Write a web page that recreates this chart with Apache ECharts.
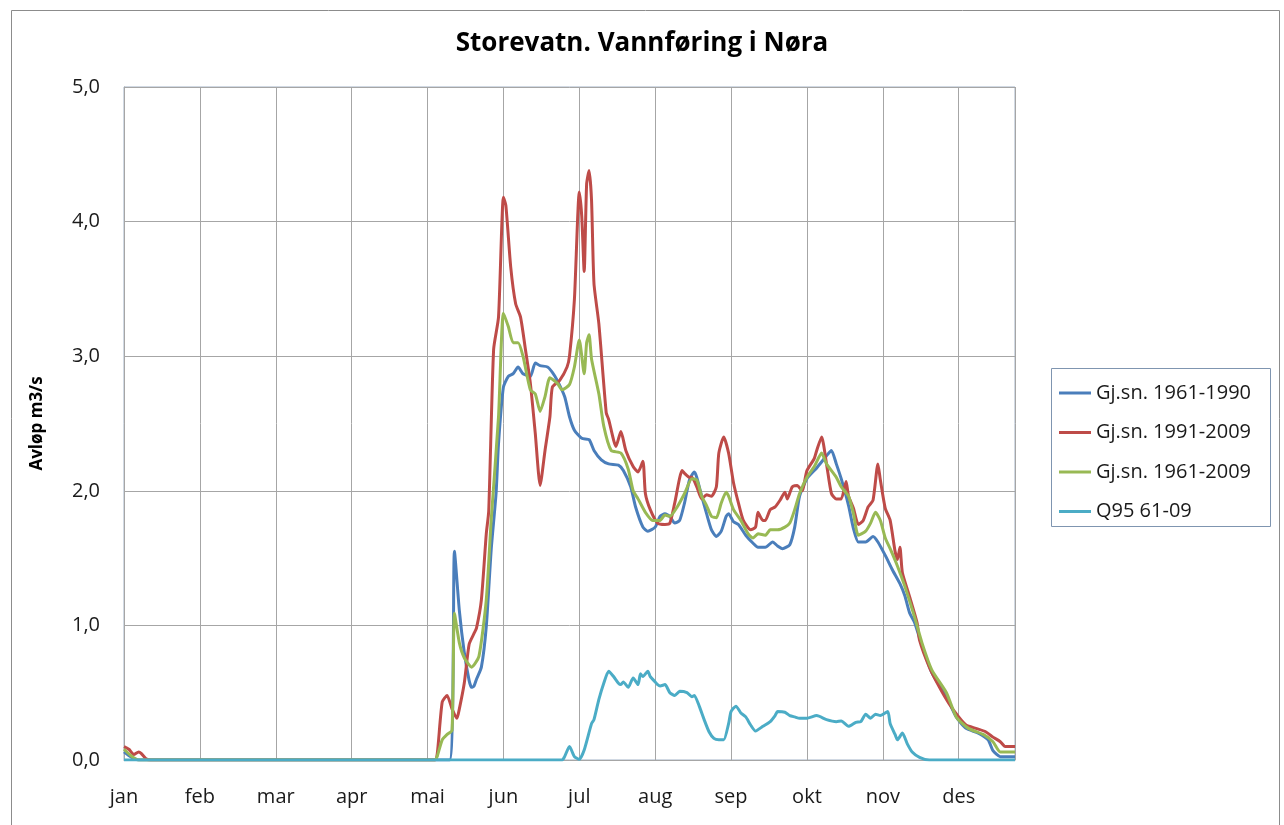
<!DOCTYPE html>
<html>
<head>
<meta charset="utf-8">
<title>Storevatn. Vannføring i Nøra</title>
<script src="https://cdn.jsdelivr.net/npm/echarts@6/dist/echarts.min.js"></script>
<style>
  html, body { margin: 0; padding: 0; background: #fff; }
  #chart { width: 1284px; height: 825px; }
</style>
</head>
<body>
<div id="chart"></div>
<script>
// month labels, one every 31 days on the day-of-year axis
var months = ['jan', 'feb', 'mar', 'apr', 'mai', 'jun', 'jul', 'aug', 'sep', 'okt', 'nov', 'des'];
var yTicks = [0, 1, 2, 3, 4, 5];

// Gj.sn. 1961-1990
var blueDays = [0, 3, 6, 133, 135, 137, 139, 141, 142, 143, 144, 146, 148, 150, 152, 153, 155, 157, 159, 161, 163, 166, 168, 170, 173, 175, 177, 180, 182, 184, 187, 190, 192, 195, 198, 202, 204, 207, 209, 212, 214, 217, 219, 221, 223, 225, 227, 229, 231, 233, 234, 236, 238, 240, 242, 244, 246, 247, 249, 251, 254, 257, 259, 262, 265, 267, 269, 272, 274, 276, 279, 283, 287, 289, 291, 293, 296, 298, 300, 303, 306, 308, 311, 314, 317, 319, 321, 323, 326, 330, 336, 340, 344, 349, 353, 355, 358, 364];
var blueVals = [0.06, 0.02, 0, 0, 1.55, 1.11, 0.80, 0.59, 0.54, 0.55, 0.60, 0.69, 0.99, 1.56, 1.98, 2.35, 2.77, 2.85, 2.87, 2.92, 2.87, 2.85, 2.95, 2.93, 2.92, 2.88, 2.82, 2.70, 2.55, 2.45, 2.39, 2.38, 2.30, 2.23, 2.20, 2.19, 2.15, 2.03, 1.88, 1.73, 1.70, 1.73, 1.81, 1.83, 1.81, 1.76, 1.78, 1.91, 2.08, 2.14, 2.10, 1.96, 1.83, 1.71, 1.66, 1.70, 1.81, 1.83, 1.77, 1.75, 1.67, 1.61, 1.58, 1.58, 1.62, 1.59, 1.57, 1.60, 1.73, 1.96, 2.09, 2.17, 2.26, 2.30, 2.20, 2.09, 1.89, 1.72, 1.62, 1.62, 1.66, 1.62, 1.52, 1.41, 1.31, 1.22, 1.09, 1.02, 0.85, 0.65, 0.47, 0.32, 0.235, 0.20, 0.15, 0.07, 0.025, 0.025];

// Gj.sn. 1991-2009
var redDays = [0, 2, 4, 6, 7, 9, 11, 127, 128, 130, 132, 134, 136, 137, 139, 141, 143, 144, 146, 148, 149, 151, 153, 155, 156, 158, 160, 162, 164, 166, 168, 170, 172, 174, 175, 178, 181, 182, 184, 186, 187, 188, 189, 190, 191, 192, 194, 197, 198, 201, 203, 205, 208, 210, 212, 213, 215, 218, 221, 223, 225, 228, 229, 231, 232, 234, 236, 238, 240, 242, 243, 245, 247, 249, 251, 253, 256, 258, 259, 261, 262, 264, 266, 268, 270, 271, 273, 275, 277, 279, 282, 283, 285, 287, 289, 291, 293, 295, 296, 298, 300, 302, 304, 306, 308, 309, 311, 313, 315, 316, 317, 318, 321, 324, 325, 329, 333, 337, 341, 344, 348, 352, 355, 358, 360, 364];
var redVals = [0.10, 0.08, 0.04, 0.06, 0.05, 0.01, 0, 0, 0.05, 0.43, 0.48, 0.38, 0.31, 0.38, 0.57, 0.86, 0.94, 0.98, 1.19, 1.68, 1.85, 3.05, 3.29, 4.18, 4.12, 3.66, 3.39, 3.29, 3.05, 2.80, 2.43, 2.04, 2.30, 2.55, 2.77, 2.82, 2.92, 3.00, 3.42, 4.22, 4.04, 3.63, 4.28, 4.38, 4.16, 3.54, 3.24, 2.58, 2.53, 2.33, 2.44, 2.30, 2.18, 2.14, 2.22, 1.98, 1.86, 1.76, 1.75, 1.76, 1.91, 2.15, 2.13, 2.10, 2.10, 2.03, 1.94, 1.97, 1.96, 2.03, 2.28, 2.40, 2.28, 2.06, 1.91, 1.78, 1.71, 1.73, 1.84, 1.78, 1.78, 1.86, 1.88, 1.93, 1.99, 1.94, 2.03, 2.04, 2.00, 2.15, 2.24, 2.30, 2.40, 2.20, 1.98, 1.94, 1.94, 2.07, 1.96, 1.87, 1.75, 1.78, 1.88, 1.93, 2.20, 2.08, 1.87, 1.78, 1.55, 1.49, 1.58, 1.39, 1.21, 1.02, 0.89, 0.69, 0.545, 0.42, 0.32, 0.26, 0.235, 0.21, 0.17, 0.136, 0.10, 0.10];

// Gj.sn. 1961-2009
var greenDays = [0, 3, 6, 127, 128, 130, 132, 134, 135, 137, 139, 142, 145, 148, 150, 153, 155, 157, 159, 161, 163, 166, 168, 170, 172, 174, 177, 179, 182, 184, 186, 188, 189, 190, 191, 194, 196, 199, 203, 206, 208, 210, 213, 216, 219, 221, 223, 226, 229, 232, 234, 236, 238, 240, 242, 244, 246, 247, 249, 252, 255, 257, 259, 262, 264, 267, 270, 272, 274, 276, 279, 282, 285, 287, 291, 293, 296, 298, 300, 303, 305, 307, 309, 311, 313, 316, 319, 323, 326, 330, 336, 340, 345, 351, 355, 358, 364];
var greenVals = [0.08, 0.03, 0, 0, 0.03, 0.15, 0.19, 0.22, 1.09, 0.87, 0.76, 0.69, 0.77, 1.19, 1.78, 2.55, 3.32, 3.22, 3.10, 3.10, 3.00, 2.75, 2.72, 2.59, 2.70, 2.84, 2.80, 2.75, 2.79, 2.92, 3.12, 2.87, 3.10, 3.16, 2.98, 2.72, 2.48, 2.30, 2.28, 2.16, 2.00, 1.94, 1.84, 1.78, 1.78, 1.82, 1.81, 1.88, 1.98, 2.09, 2.08, 1.96, 1.89, 1.81, 1.80, 1.91, 1.99, 1.96, 1.86, 1.78, 1.68, 1.65, 1.68, 1.67, 1.71, 1.71, 1.73, 1.76, 1.86, 1.98, 2.10, 2.18, 2.28, 2.20, 2.10, 2.03, 1.96, 1.83, 1.67, 1.70, 1.76, 1.84, 1.78, 1.65, 1.57, 1.44, 1.29, 1.06, 0.87, 0.67, 0.50, 0.32, 0.235, 0.19, 0.136, 0.06, 0.06];

// Q95 61-09
var q95Days = [0, 179, 180, 182, 184, 186, 188, 191, 192, 194, 196, 198, 200, 202, 203, 204, 206, 208, 210, 211, 212, 214, 215, 217, 218, 219, 221, 223, 225, 227, 230, 232, 233, 235, 237, 239, 241, 243, 245, 247, 248, 250, 252, 254, 256, 258, 261, 264, 266, 267, 270, 272, 274, 276, 279, 283, 287, 291, 293, 296, 299, 301, 303, 305, 307, 309, 312, 313, 315, 316, 318, 320, 322, 325, 329, 364];
var q95Vals = [0, 0, 0.025, 0.10, 0.025, 0.005, 0.074, 0.27, 0.30, 0.45, 0.57, 0.66, 0.62, 0.57, 0.56, 0.58, 0.54, 0.61, 0.56, 0.64, 0.62, 0.66, 0.62, 0.58, 0.56, 0.55, 0.56, 0.50, 0.48, 0.51, 0.50, 0.47, 0.48, 0.40, 0.30, 0.21, 0.16, 0.15, 0.15, 0.27, 0.36, 0.40, 0.35, 0.32, 0.26, 0.215, 0.25, 0.285, 0.33, 0.36, 0.355, 0.33, 0.32, 0.31, 0.31, 0.33, 0.30, 0.285, 0.29, 0.25, 0.28, 0.285, 0.34, 0.31, 0.34, 0.33, 0.36, 0.27, 0.19, 0.15, 0.20, 0.12, 0.06, 0.02, 0, 0];

function zip(xs, ys) {
  return xs.map(function (x, i) { return [x, ys[i]]; });
}

var font = '"Open Sans", Lato, sans-serif';

function lineSeries(name, color, days, vals) {
  return {
    name: name,
    type: 'line',
    data: zip(days, vals),
    symbol: 'none',
    smooth: 0.2,
    lineStyle: { color: color, width: 3 },
    itemStyle: { color: color },
    emphasis: { disabled: true }
  };
}

var myChart = echarts.init(document.getElementById('chart'));

myChart.setOption({
  animation: false,
  backgroundColor: '#fff',
  title: {
    text: 'Storevatn. Vannføring i Nøra',
    left: 'center',
    top: 26,
    textStyle: { fontFamily: font, fontSize: 26, fontWeight: 'bold', color: '#000' }
  },
  graphic: [{
    type: 'rect',
    shape: { x: 11.5, y: 10.5, width: 1268, height: 830 },
    style: { fill: 'none', stroke: '#8c8c8c', lineWidth: 1 },
    silent: true
  }, {
    type: 'rect',
    shape: { x: 1051.5, y: 368.5, width: 219, height: 158 },
    style: { fill: 'none', stroke: '#7f95b0', lineWidth: 1 },
    silent: true
  }],
  legend: {
    orient: 'vertical',
    left: 1054,
    top: 377,
    icon: 'rect',
    itemWidth: 32,
    itemHeight: 3,
    itemGap: 17.5,
    textStyle: { fontFamily: font, fontSize: 20, color: '#1a1a1a', lineHeight: 22 },
    data: ['Gj.sn. 1961-1990', 'Gj.sn. 1991-2009', 'Gj.sn. 1961-2009', 'Q95 61-09']
  },
  grid: {
    left: 124,
    right: 269,
    top: 87,
    bottom: 65,
    show: true,
    borderColor: '#a3b3c6',
    borderWidth: 1
  },
  xAxis: {
    type: 'value',
    min: 0,
    max: 364,
    interval: 31,
    axisLine: { show: true, lineStyle: { color: '#a6a6a6', width: 1 } },
    axisTick: { show: false },
    splitLine: { show: true, lineStyle: { color: '#a6a6a6', width: 1 } },
    axisLabel: {
      fontFamily: font,
      fontSize: 20,
      color: '#1a1a1a',
      margin: 27,
      showMaxLabel: false,
      formatter: function (v) {
        return v % 31 === 0 ? (months[v / 31] || '') : '';
      }
    }
  },
  yAxis: {
    type: 'value',
    min: yTicks[0],
    max: yTicks[yTicks.length - 1],
    interval: 1,
    name: 'Avløp m3/s',
    nameLocation: 'middle',
    nameRotate: 90,
    nameGap: 78,
    nameTextStyle: { fontFamily: font, fontSize: 17, fontWeight: 'bold', color: '#000' },
    axisLine: { show: true, lineStyle: { color: '#a6a6a6', width: 1 } },
    axisTick: { show: false },
    splitLine: { show: true, lineStyle: { color: '#a6a6a6', width: 1 } },
    axisLabel: {
      fontFamily: font,
      fontSize: 20,
      color: '#1a1a1a',
      margin: 24,
      formatter: function (v) { return v.toFixed(1).replace('.', ','); }
    }
  },
  series: [
    lineSeries('Gj.sn. 1961-1990', '#4a7ebb', blueDays, blueVals),
    lineSeries('Gj.sn. 1991-2009', '#be4b48', redDays, redVals),
    lineSeries('Gj.sn. 1961-2009', '#98b954', greenDays, greenVals),
    lineSeries('Q95 61-09', '#4bacc6', q95Days, q95Vals)
  ]
});
</script>
</body>
</html>
